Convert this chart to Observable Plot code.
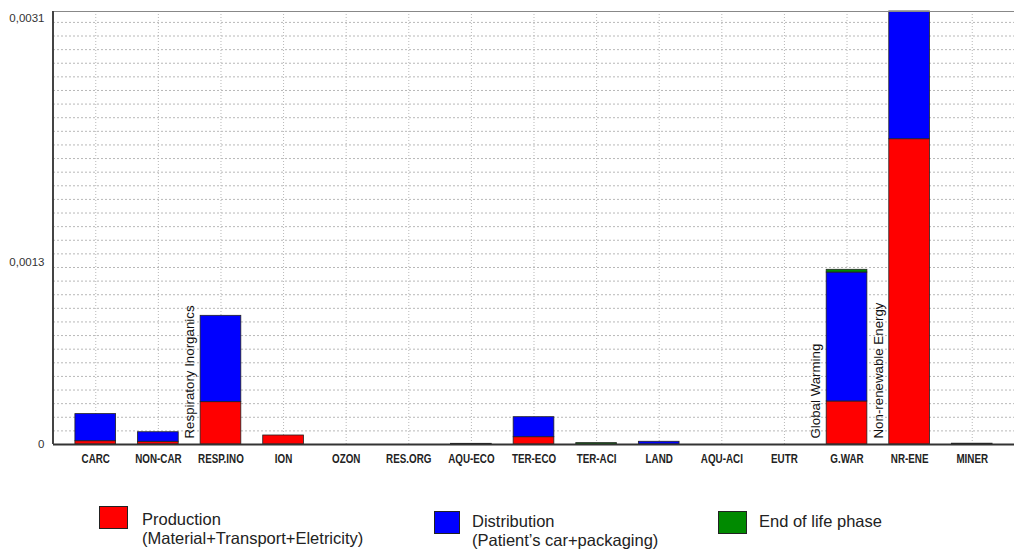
<!DOCTYPE html>
<html>
<head>
<meta charset="utf-8">
<script src="https://cdn.jsdelivr.net/npm/d3@7"></script>
<script src="https://cdn.jsdelivr.net/npm/@observablehq/plot@0.6"></script>
<style>
  html, body { margin: 0; padding: 0; background: #fff; }
  #wrap { position: relative; width: 1014px; height: 552px; overflow: hidden; }
  #chart { position: absolute; left: 0; top: 0; }
  #chart svg [aria-label^="x-axis"] text { font-family: "Liberation Sans", Arial, sans-serif; font-weight: bold; font-size: 12px; fill: #222; }
  #chart svg [aria-label^="y-axis"] text { font-family: "Liberation Sans", Arial, sans-serif; font-size: 11.5px; fill: #333; }
  .leg { position: absolute; font-family: "Liberation Sans", Arial, sans-serif; font-size: 16.5px; color: #222; line-height: 19px; white-space: nowrap; }
  .sw { position: absolute; border: 1px solid #222; box-sizing: border-box; }
</style>
</head>
<body>
<div id="wrap">
  <div id="chart"></div>
  <div id="legend"></div>
</div>
<script>
// ---- data ----
const categories = ["CARC", "NON-CAR", "RESP.INO", "ION", "OZON", "RES.ORG", "AQU-ECO", "TER-ECO", "TER-ACI", "LAND", "AQU-ACI", "EUTR", "G.WAR", "NR-ENE", "MINER"];
const production   = [0.0000242, 0.00002, 0.000311, 0.0000661, 0, 0, 0, 0.0000536, 0, 0, 0, 0, 0.000316, 0.002242, 0];
const distribution = [0.000199, 0.00007, 0.000634, 0, 0, 0, 0, 0.000147, 0, 0.00002, 0, 0, 0.000947, 0.000938, 0];
const endOfLife    = [0, 0, 0, 0, 0, 0, 0.000005, 0, 0.00001, 0, 0, 0, 0.00002, 0, 0.000006];
const phases = ["Production", "Distribution", "End of life phase"];
const phaseColors = ["#ff0000", "#0000ff", "#008a00"];
const legendLine1 = ["Production", "Distribution", "End of life phase"];
const legendLine2 = ["(Material+Transport+Eletricity)", "(Patient\u2019s car+packaging)", ""];
const yTickValues = [0, 0.001337, 0.003129];
const yTickLabels = ["0", "0,0013", "0,0031"];
const yMax = 0.00318;
const annotationCategories = ["RESP.INO", "G.WAR", "NR-ENE"];
const annotationTexts = ["Respiratory Inorganics", "Global Warming", "Non-renewable Energy"];

// ---- table ----
const series = [production, distribution, endOfLife];
const rows = [];
categories.forEach((c, i) => {
  phases.forEach((p, j) => {
    const v = series[j][i];
    if (v > 0) rows.push({category: c, phase: p, value: v});
  });
});
const annotations = annotationCategories.map((c, i) => ({category: c, text: annotationTexts[i]}));
const gridTicks = d3.range(1, 32).map(k => k * 0.0001);

const chart = Plot.plot({
  width: 1014,
  height: 480,
  marginTop: 11,
  marginBottom: 36,
  marginLeft: 53,
  marginRight: 0,
  style: {fontFamily: "Liberation Sans, Arial, sans-serif", background: "#fff"},
  x: {domain: categories, paddingInner: 0.35, paddingOuter: 0.35, round: false, label: null, tickSize: 0, tickPadding: 10},
  y: {domain: [0, yMax], ticks: yTickValues, tickFormat: d => yTickLabels[yTickValues.indexOf(d)], tickSize: 0, tickPadding: 9, label: null},
  color: {domain: phases, range: phaseColors},
  marks: [
    Plot.ruleY(gridTicks, {stroke: "#b8b8b8", strokeDasharray: "2,2", strokeWidth: 1}),
    Plot.ruleX(categories, {stroke: "#b8b8b8", strokeDasharray: "1,2", strokeWidth: 1}),
    Plot.barY(rows, {x: "category", y: "value", fill: "phase", z: "phase", stroke: "#222", strokeWidth: 0.8}),
    Plot.text(annotations, {x: "category", y: () => 0, text: "text", rotate: -90, textAnchor: "start", dx: -31, dy: -6, fontSize: 13.3, fill: "#111"}),
    Plot.ruleY([0], {stroke: "#333", strokeWidth: 2}),
    Plot.ruleY([yMax], {stroke: "#888", strokeWidth: 1.2})
  ]
});
document.getElementById("chart").appendChild(chart);

const svg = d3.select(chart);
// left frame line
svg.append("line").attr("x1", 53).attr("x2", 53).attr("y1", 11).attr("y2", 444).attr("stroke", "#444").attr("stroke-width", 2);
// condense the x tick labels horizontally (narrow bold look)
svg.selectAll('[aria-label^="x-axis"] text').each(function() {
  const t = this.getAttribute("transform") || "";
  this.setAttribute("transform", (t + " scale(0.82,1)").trim());
});

// ---- legend ----
const legendSwatchX = [99, 434, 718];
const legendSwatchY = [506, 511, 511];
const legendSwatchW = [29, 26, 29];
const legendTextX = [142, 472, 759];
const legendTextY = [510, 512, 512];
const legend = document.getElementById("legend");
phases.forEach((p, i) => {
  const sw = document.createElement("div");
  sw.className = "sw";
  sw.style.left = legendSwatchX[i] + "px";
  sw.style.top = legendSwatchY[i] + "px";
  sw.style.width = legendSwatchW[i] + "px";
  sw.style.height = "23px";
  sw.style.background = phaseColors[i];
  legend.appendChild(sw);
  const t = document.createElement("div");
  t.className = "leg";
  t.style.left = legendTextX[i] + "px";
  t.style.top = legendTextY[i] + "px";
  t.innerHTML = legendLine1[i] + (legendLine2[i] ? "<br>" + legendLine2[i] : "");
  legend.appendChild(t);
});
</script>
</body>
</html>
